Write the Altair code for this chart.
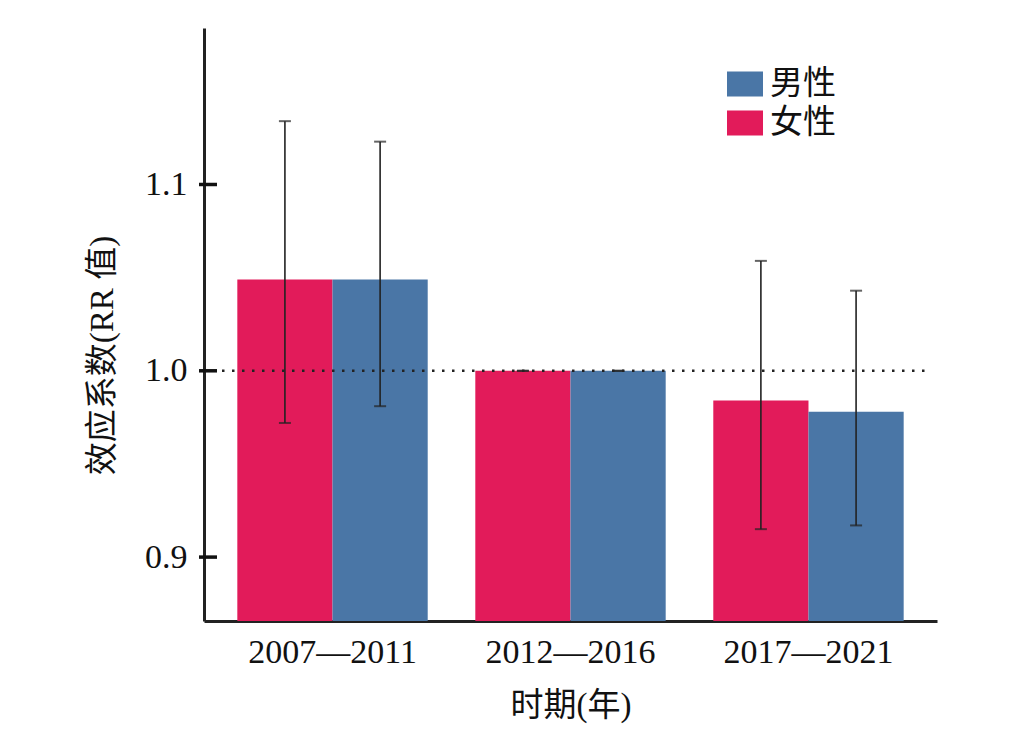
import altair as alt
import pandas as pd

periods = ["2007—2011", "2012—2016", "2017—2021"]
sexes = ["女性", "男性"]
female_rr = [1.049, 1.000, 0.984]
female_lo = [0.972, 1.000, 0.915]
female_hi = [1.134, 1.000, 1.059]
male_rr = [1.049, 1.000, 0.978]
male_lo = [0.981, 1.000, 0.917]
male_hi = [1.123, 1.000, 1.043]
y_ticks = [0.9, 1.0, 1.1]
y_min, y_max = 0.8657, 1.184
ref_value = 1.0

rows = []
for i, p in enumerate(periods):
    rows.append({"period": p, "sex": "女性", "rr": female_rr[i], "lo": female_lo[i], "hi": female_hi[i], "base": y_min})
    rows.append({"period": p, "sex": "男性", "rr": male_rr[i], "lo": male_lo[i], "hi": male_hi[i], "base": y_min})
df = pd.DataFrame(rows)

FONT = "Liberation Serif, Noto Sans CJK SC"
W, H = 733, 593

x_enc = alt.X("period:N", sort=periods,
              scale=alt.Scale(paddingInner=0.2, paddingOuter=0.14),
              axis=alt.Axis(title="时期(年)", labelAngle=0, ticks=False,
                            labelPadding=14, titlePadding=20,
                            domainWidth=3, domainColor="#222"))
xo_enc = alt.XOffset("sex:N", sort=sexes, scale=alt.Scale(paddingInner=0, paddingOuter=0))
y_scale = alt.Scale(domain=[y_min, y_max], nice=False, zero=False)

bars = alt.Chart(df).mark_bar(clip=True).encode(
    x=x_enc,
    xOffset=xo_enc,
    y=alt.Y("rr:Q", scale=y_scale,
            axis=alt.Axis(title="效应系数(RR 值)", values=y_ticks, format=".1f",
                          tickSize=0, labelPadding=17, grid=False,
                          domainWidth=3, domainColor="#222",
                          titleX=-102, titleY=327, titleAngle=270,
                          titleAlign="center", titleBaseline="middle")),
    y2="base:Q",
    color=alt.Color("sex:N",
                    scale=alt.Scale(domain=["男性", "女性"], range=["#4A76A6", "#E21B5A"]),
                    legend=alt.Legend(title=None, orient="none", legendX=523, legendY=38,
                                      symbolType="M-1,-0.7H1V0.7H-1Z", symbolSize=1296,
                                      symbolStrokeWidth=0, symbolOpacity=1,
                                      labelFontSize=33, labelFont=FONT, labelColor="#111",
                                      labelOffset=7, rowPadding=4, padding=0)),
)

err = alt.Chart(df).mark_rule(color="#222", strokeWidth=1.6).encode(
    x=alt.X("period:N", sort=periods),
    xOffset=alt.XOffset("sex:N", sort=sexes),
    y="lo:Q",
    y2="hi:Q",
)

caps_lo = alt.Chart(df).mark_tick(color="#222", thickness=2, size=12).encode(
    x=alt.X("period:N", sort=periods),
    xOffset=alt.XOffset("sex:N", sort=sexes),
    y="lo:Q",
)
caps_hi = alt.Chart(df).mark_tick(color="#222", thickness=2, size=12).encode(
    x=alt.X("period:N", sort=periods),
    xOffset=alt.XOffset("sex:N", sort=sexes),
    y="hi:Q",
)

ref = alt.Chart(pd.DataFrame({"v": [ref_value]})).mark_rule(
    color="#222", strokeWidth=2.5, strokeDash=[2.5, 7.5]
).encode(y="v:Q", x=alt.value(18), x2=alt.value(726))

ticks_in = alt.Chart(pd.DataFrame({"t": y_ticks})).mark_rule(
    color="#111", strokeWidth=3.5
).encode(y="t:Q", x=alt.value(-5), x2=alt.value(13))

chart = alt.layer(bars, ref, err, caps_lo, caps_hi, ticks_in).resolve_scale(y="shared").properties(
    width=W, height=H,
    background="white",
    autosize=alt.AutoSizeParams(type="none"),
    padding={"left": 196, "top": 20, "right": 60, "bottom": 110},
).configure_view(stroke=None).configure_axis(
    labelFont=FONT, titleFont=FONT, labelFontSize=34, titleFontSize=33,
    labelColor="#111", titleColor="#111", titleFontWeight="normal",
)

chart.save("out.html", embed_options={"renderer": "svg", "actions": False})
